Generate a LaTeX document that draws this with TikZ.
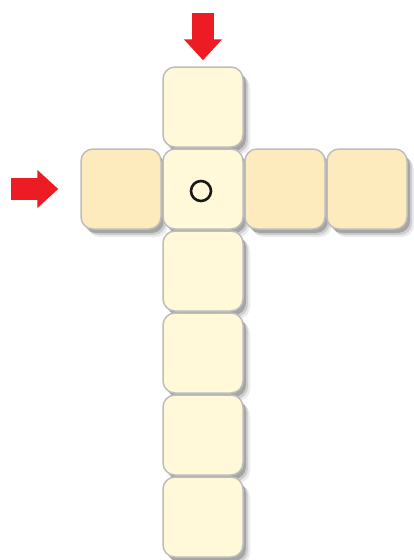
\documentclass[tikz,border=0pt]{standalone}
\usepackage{tikz}
\usetikzlibrary{arrows.meta, shadows, positioning}

\definecolor{paleyellow}{HTML}{FFF8D9}
\definecolor{sandcell}{HTML}{FEEBBD}
\definecolor{cellrim}{HTML}{BDBDBD}
\definecolor{pointred}{HTML}{ED1C24}

\begin{document}
\begin{tikzpicture}[x=1pt, y=-1pt, node distance=0.5pt,
    cell/.style={draw=cellrim, line width=1.5pt, rounded corners=12pt, minimum size=80pt, inner sep=0pt,
                 fill=paleyellow,
                 drop shadow={shadow xshift=7pt, shadow yshift=-8pt, opacity=0.08, fill=black},
                 drop shadow={shadow xshift=5pt, shadow yshift=-6pt, opacity=0.12, fill=black},
                 drop shadow={shadow xshift=3pt, shadow yshift=-4pt, opacity=0.2, fill=black}},
    sidecell/.style={cell, fill=sandcell},
    pointer/.style={-{Triangle[length=21pt, width=37pt]}, line width=22pt, pointred}]
        \useasboundingbox (0,0) rectangle (414,560);

        % cells
        \node[cell] (top) at (203,107) {};
        \node[sidecell] (west) at (121,189) {};
        \node[cell, below=of top] (mid) {};
        \node[sidecell, right=of mid] (east) {};
        \node[sidecell, right=of east] (fareast) {};
        \foreach \n/\p in {low1/mid, low2/low1, low3/low2, low4/low3} {
            \node[cell, below=of \p] (\n) {};
        }

        % ring in the middle cell
        \node[draw=black!90, circle, line width=2.6pt, minimum size=20pt, inner sep=0pt] (ring)
              at ([shift={(-2pt,-2pt)}]mid.center) {};

        % red pointers
        \coordinate (downtail) at (203,13);
        \coordinate (righttail) at (11,189);
        \draw[pointer, shorten >=6pt] (downtail) -- (top);
        \draw[pointer, shorten >=22pt] (righttail) -- (west);
\end{tikzpicture}
\end{document}
